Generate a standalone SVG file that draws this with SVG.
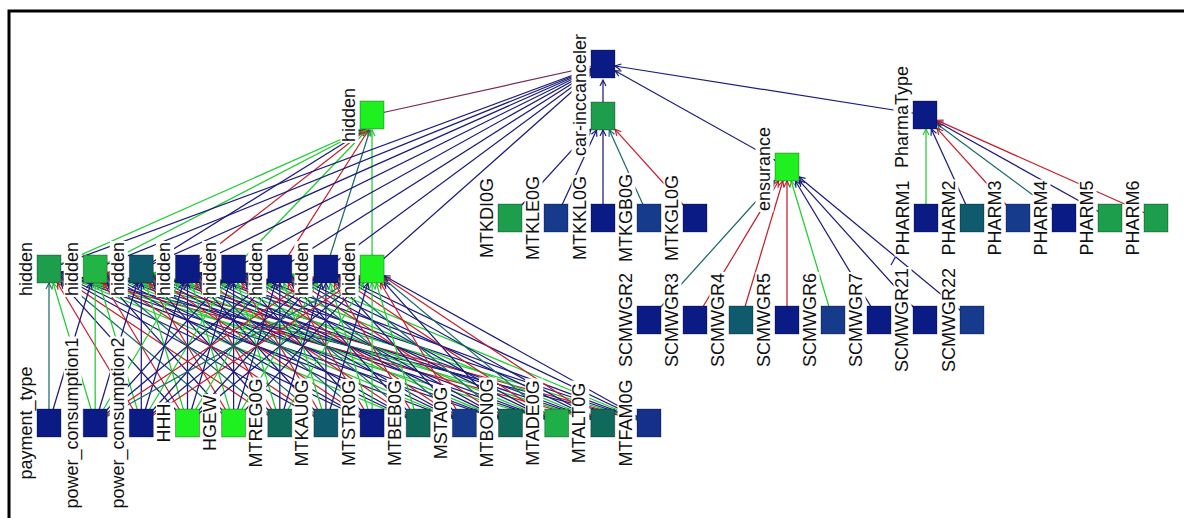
<svg xmlns="http://www.w3.org/2000/svg" width="1184" height="518" viewBox="0 0 1184 518">
<defs>
<style>
.e line{fill:none;stroke-width:1.25}
.n{stroke:#1c1c7c;marker-end:url(#an)}
.r{stroke:#c4202e;marker-end:url(#ar)}
.g{stroke:#22cc33;marker-end:url(#ag)}
.t{stroke:#1d6a6a;marker-end:url(#at)}
.nn{stroke:#1c1c7c}
.pp{stroke:#7a2850}
.bg{fill:#fff}
.l{font-family:"Liberation Sans",Arial,sans-serif;font-size:18px;fill:#111;text-anchor:middle}
.s{stroke:#000;stroke-opacity:.3;stroke-width:1}
</style>
<marker id="an" markerUnits="userSpaceOnUse" orient="auto" markerWidth="12" markerHeight="12" overflow="visible"><path d="M-6,-3L0,0L-6,3" fill="none" stroke="#1c1c7c" stroke-width="1.2"/></marker>
<marker id="ar" markerUnits="userSpaceOnUse" orient="auto" markerWidth="12" markerHeight="12" overflow="visible"><path d="M-6,-3L0,0L-6,3" fill="none" stroke="#c4202e" stroke-width="1.2"/></marker>
<marker id="ag" markerUnits="userSpaceOnUse" orient="auto" markerWidth="12" markerHeight="12" overflow="visible"><path d="M-6,-3L0,0L-6,3" fill="none" stroke="#22cc33" stroke-width="1.2"/></marker>
<marker id="at" markerUnits="userSpaceOnUse" orient="auto" markerWidth="12" markerHeight="12" overflow="visible"><path d="M-6,-3L0,0L-6,3" fill="none" stroke="#1d6a6a" stroke-width="1.2"/></marker>
</defs>
<rect width="1184" height="518" fill="#fff"/>
<path d="M9,518V11H1184" fill="none" stroke="#000" stroke-width="3"/>

<g id="connectors" class="e">
<!-- bottom row -> hidden row -->
<line class="t" x1="49" y1="423" x2="49" y2="283"/>
<line class="g" x1="95.2" y1="423" x2="53.2" y2="283"/>
<line class="r" x1="141.3" y1="423" x2="57.4" y2="283"/>
<line class="n" x1="187.5" y1="423" x2="61" y2="282.3"/>
<line class="t" x1="233.6" y1="423" x2="61" y2="279"/>
<line class="r" x1="279.8" y1="423" x2="61" y2="277"/>
<line class="n" x1="325.9" y1="423" x2="61" y2="275.7"/>
<line class="n" x1="372.1" y1="423" x2="61" y2="274.7"/>
<line class="g" x1="418.2" y1="423" x2="61" y2="274"/>
<line class="n" x1="464.4" y1="423" x2="61" y2="273.4"/>
<line class="n" x1="510.5" y1="423" x2="61" y2="273"/>
<line class="g" x1="556.7" y1="423" x2="61" y2="272.6"/>
<line class="r" x1="602.8" y1="423" x2="61" y2="272.3"/>
<line class="n" x1="649" y1="423" x2="61" y2="272.1"/>
<line class="n" x1="49" y1="423" x2="91" y2="283"/>
<line class="g" x1="95.2" y1="423" x2="95.2" y2="283"/>
<line class="g" x1="141.3" y1="423" x2="99.4" y2="283"/>
<line class="r" x1="187.5" y1="423" x2="103.6" y2="283"/>
<line class="n" x1="233.6" y1="423" x2="107.2" y2="282.3"/>
<line class="t" x1="279.8" y1="423" x2="107.2" y2="279"/>
<line class="r" x1="325.9" y1="423" x2="107.2" y2="277"/>
<line class="n" x1="372.1" y1="423" x2="107.2" y2="275.7"/>
<line class="n" x1="418.2" y1="423" x2="107.2" y2="274.7"/>
<line class="g" x1="464.4" y1="423" x2="107.2" y2="274"/>
<line class="n" x1="510.5" y1="423" x2="107.2" y2="273.4"/>
<line class="n" x1="556.7" y1="423" x2="107.2" y2="273"/>
<line class="g" x1="602.8" y1="423" x2="107.2" y2="272.6"/>
<line class="r" x1="649" y1="423" x2="107.2" y2="272.3"/>
<line class="n" x1="95.2" y1="423" x2="137.1" y2="283"/>
<line class="n" x1="141.3" y1="423" x2="141.3" y2="283"/>
<line class="g" x1="187.5" y1="423" x2="145.5" y2="283"/>
<line class="r" x1="233.6" y1="423" x2="149.7" y2="283"/>
<line class="n" x1="279.8" y1="423" x2="153.3" y2="282.3"/>
<line class="t" x1="325.9" y1="423" x2="153.3" y2="279"/>
<line class="r" x1="372.1" y1="423" x2="153.3" y2="277"/>
<line class="n" x1="418.2" y1="423" x2="153.3" y2="275.7"/>
<line class="n" x1="464.4" y1="423" x2="153.3" y2="274.7"/>
<line class="g" x1="510.5" y1="423" x2="153.3" y2="274"/>
<line class="n" x1="556.7" y1="423" x2="153.3" y2="273.4"/>
<line class="n" x1="602.8" y1="423" x2="153.3" y2="273"/>
<line class="g" x1="649" y1="423" x2="153.3" y2="272.6"/>
<line class="g" x1="95.2" y1="423" x2="179.1" y2="283"/>
<line class="n" x1="141.3" y1="423" x2="183.3" y2="283"/>
<line class="n" x1="187.5" y1="423" x2="187.5" y2="283"/>
<line class="g" x1="233.6" y1="423" x2="191.7" y2="283"/>
<line class="r" x1="279.8" y1="423" x2="195.9" y2="283"/>
<line class="n" x1="325.9" y1="423" x2="199.5" y2="282.3"/>
<line class="t" x1="372.1" y1="423" x2="199.5" y2="279"/>
<line class="r" x1="418.2" y1="423" x2="199.5" y2="277"/>
<line class="n" x1="464.4" y1="423" x2="199.5" y2="275.7"/>
<line class="n" x1="510.5" y1="423" x2="199.5" y2="274.7"/>
<line class="g" x1="556.7" y1="423" x2="199.5" y2="274"/>
<line class="n" x1="602.8" y1="423" x2="199.5" y2="273.4"/>
<line class="n" x1="649" y1="423" x2="199.5" y2="273"/>
<line class="n" x1="95.2" y1="423" x2="221.6" y2="282.3"/>
<line class="g" x1="141.3" y1="423" x2="225.2" y2="283"/>
<line class="n" x1="187.5" y1="423" x2="229.4" y2="283"/>
<line class="n" x1="233.6" y1="423" x2="233.6" y2="283"/>
<line class="g" x1="279.8" y1="423" x2="237.8" y2="283"/>
<line class="r" x1="325.9" y1="423" x2="242" y2="283"/>
<line class="n" x1="372.1" y1="423" x2="245.6" y2="282.3"/>
<line class="t" x1="418.2" y1="423" x2="245.6" y2="279"/>
<line class="r" x1="464.4" y1="423" x2="245.6" y2="277"/>
<line class="n" x1="510.5" y1="423" x2="245.6" y2="275.7"/>
<line class="n" x1="556.7" y1="423" x2="245.6" y2="274.7"/>
<line class="g" x1="602.8" y1="423" x2="245.6" y2="274"/>
<line class="n" x1="649" y1="423" x2="245.6" y2="273.4"/>
<line class="n" x1="95.2" y1="423" x2="267.8" y2="279"/>
<line class="n" x1="141.3" y1="423" x2="267.8" y2="282.3"/>
<line class="g" x1="187.5" y1="423" x2="271.4" y2="283"/>
<line class="n" x1="233.6" y1="423" x2="275.6" y2="283"/>
<line class="n" x1="279.8" y1="423" x2="279.8" y2="283"/>
<line class="g" x1="325.9" y1="423" x2="284" y2="283"/>
<line class="r" x1="372.1" y1="423" x2="288.2" y2="283"/>
<line class="n" x1="418.2" y1="423" x2="291.8" y2="282.3"/>
<line class="t" x1="464.4" y1="423" x2="291.8" y2="279"/>
<line class="r" x1="510.5" y1="423" x2="291.8" y2="277"/>
<line class="n" x1="556.7" y1="423" x2="291.8" y2="275.7"/>
<line class="n" x1="602.8" y1="423" x2="291.8" y2="274.7"/>
<line class="g" x1="649" y1="423" x2="291.8" y2="274"/>
<line class="r" x1="95.2" y1="423" x2="313.9" y2="277"/>
<line class="n" x1="141.3" y1="423" x2="313.9" y2="279"/>
<line class="n" x1="187.5" y1="423" x2="313.9" y2="282.3"/>
<line class="g" x1="233.6" y1="423" x2="317.5" y2="283"/>
<line class="n" x1="279.8" y1="423" x2="321.7" y2="283"/>
<line class="n" x1="325.9" y1="423" x2="325.9" y2="283"/>
<line class="g" x1="372.1" y1="423" x2="330.1" y2="283"/>
<line class="r" x1="418.2" y1="423" x2="334.3" y2="283"/>
<line class="n" x1="464.4" y1="423" x2="337.9" y2="282.3"/>
<line class="t" x1="510.5" y1="423" x2="337.9" y2="279"/>
<line class="r" x1="556.7" y1="423" x2="337.9" y2="277"/>
<line class="n" x1="602.8" y1="423" x2="337.9" y2="275.7"/>
<line class="n" x1="649" y1="423" x2="337.9" y2="274.7"/>
<line class="t" x1="95.2" y1="423" x2="360.1" y2="275.7"/>
<line class="r" x1="141.3" y1="423" x2="360.1" y2="277"/>
<line class="n" x1="187.5" y1="423" x2="360.1" y2="279"/>
<line class="n" x1="233.6" y1="423" x2="360.1" y2="282.3"/>
<line class="g" x1="279.8" y1="423" x2="363.7" y2="283"/>
<line class="n" x1="325.9" y1="423" x2="367.9" y2="283"/>
<line class="g" x1="372.1" y1="423" x2="372.1" y2="283"/>
<line class="g" x1="418.2" y1="423" x2="376.3" y2="283"/>
<line class="r" x1="464.4" y1="423" x2="380.5" y2="283"/>
<line class="n" x1="510.5" y1="423" x2="384.1" y2="282.3"/>
<line class="t" x1="556.7" y1="423" x2="384.1" y2="279"/>
<line class="r" x1="602.8" y1="423" x2="384.1" y2="277"/>
<line class="n" x1="649" y1="423" x2="384.1" y2="275.7"/>
<!-- hidden row -> top hidden -->
<line class="g" x1="49" y1="269" x2="362" y2="130"/>
<line class="g" x1="95.2" y1="269" x2="363.5" y2="130"/>
<line class="n" x1="141.3" y1="269" x2="365" y2="130"/>
<line class="r" x1="187.5" y1="269" x2="366" y2="130"/>
<line class="g" x1="233.6" y1="269" x2="367" y2="130"/>
<line class="r" x1="279.8" y1="269" x2="368.5" y2="130"/>
<line class="t" x1="325.9" y1="269" x2="370" y2="130"/>
<line class="g" x1="372.1" y1="269" x2="372" y2="130"/>
<!-- hidden row -> car-inccanceler -->
<line class="nn" x1="49" y1="269" x2="603" y2="64"/>
<line class="nn" x1="95.2" y1="269" x2="603" y2="64"/>
<line class="nn" x1="141.3" y1="269" x2="603" y2="64"/>
<line class="nn" x1="187.5" y1="269" x2="603" y2="64"/>
<line class="nn" x1="233.6" y1="269" x2="603" y2="64"/>
<line class="nn" x1="279.8" y1="269" x2="603" y2="64"/>
<line class="nn" x1="325.9" y1="269" x2="603" y2="64"/>
<line class="nn" x1="372.1" y1="269" x2="603" y2="64"/>
<line class="pp" x1="372" y1="115" x2="603" y2="64"/>
<!-- into car-inccanceler -->
<line class="n" x1="603" y1="102" x2="603" y2="80"/>
<line class="n" x1="787" y1="167" x2="615" y2="70.7"/>
<line class="n" x1="925" y1="115" x2="615" y2="66"/>
<!-- MTK row -> green -->
<line class="n" x1="510" y1="218" x2="591" y2="129.2"/>
<line class="n" x1="556" y1="218" x2="596.6" y2="130"/>
<line class="n" x1="603" y1="218" x2="603" y2="130"/>
<line class="t" x1="649" y1="218" x2="609.3" y2="130"/>
<line class="r" x1="695" y1="218" x2="615" y2="129.3"/>
<!-- SCMWGR row -> ensurance -->
<line class="t" x1="649" y1="320" x2="775" y2="180.3"/>
<line class="r" x1="695" y1="320" x2="778.6" y2="181"/>
<line class="r" x1="741" y1="320" x2="782.8" y2="181"/>
<line class="r" x1="787" y1="320" x2="787" y2="181"/>
<line class="g" x1="833" y1="320" x2="791.2" y2="181"/>
<line class="n" x1="879" y1="320" x2="795.4" y2="181"/>
<line class="n" x1="925" y1="320" x2="799" y2="180.3"/>
<line class="n" x1="972" y1="320" x2="799" y2="176.9"/>
<!-- PHARM row -> PharmaType -->
<line class="g" x1="926" y1="218" x2="926" y2="129"/>
<line class="n" x1="972" y1="218" x2="931.3" y2="129"/>
<line class="r" x1="1018" y1="218" x2="937" y2="128.3"/>
<line class="t" x1="1064" y1="218" x2="937" y2="123.9"/>
<line class="n" x1="1110" y1="218" x2="937" y2="121.7"/>
<line class="r" x1="1156" y1="218" x2="937" y2="120.4"/>
<line class="nn" x1="891" y1="265" x2="896" y2="256"/>
</g>

<!-- top nodes -->
<g id="n-car-inccanceler"><rect class="bg" x="571.5" y="33" width="18" height="124"/><text class="l" transform="translate(585.5,95) rotate(-90)">car-inccanceler</text><rect class="s" x="591" y="50" width="24" height="28" fill="#0b1b86"/></g>
<g id="n-car-green"><rect class="s" x="591" y="102" width="24" height="28" fill="#1d9e4c"/></g>
<g id="n-hidden-top"><rect class="bg" x="340.5" y="87" width="18" height="56"/><text class="l" transform="translate(354.5,115) rotate(-90)">hidden</text><rect class="s" x="360" y="101" width="24" height="28" fill="#1ff01f"/></g>
<g id="n-ensurance"><rect class="bg" x="755.5" y="126" width="18" height="86"/><text class="l" transform="translate(769.5,169) rotate(-90)">ensurance</text><rect class="s" x="775" y="153" width="24" height="28" fill="#1ff01f"/></g>
<g id="n-pharmatype"><rect class="bg" x="893.5" y="64.5" width="18" height="105"/><text class="l" transform="translate(907.5,117) rotate(-90)">PharmaType</text><rect class="s" x="913" y="101" width="24" height="28" fill="#0b1b86"/></g>

<!-- hidden row -->
<g id="n-h0"><rect class="bg" x="17.5" y="241" width="18" height="56"/><text class="l" transform="translate(31.5,269) rotate(-90)">hidden</text><rect class="s" x="37" y="255" width="24" height="28" fill="#1d9e4c"/></g>
<g id="n-h1"><rect class="bg" x="63.7" y="241" width="18" height="56"/><text class="l" transform="translate(77.7,269) rotate(-90)">hidden</text><rect class="s" x="83.2" y="255" width="24" height="28" fill="#22b444"/></g>
<g id="n-h2"><rect class="bg" x="109.8" y="241" width="18" height="56"/><text class="l" transform="translate(123.8,269) rotate(-90)">hidden</text><rect class="s" x="129.3" y="255" width="24" height="28" fill="#0f5a6c"/></g>
<g id="n-h3"><rect class="bg" x="156" y="241" width="18" height="56"/><text class="l" transform="translate(170,269) rotate(-90)">hidden</text><rect class="s" x="175.5" y="255" width="24" height="28" fill="#0b1b86"/></g>
<g id="n-h4"><rect class="bg" x="202.1" y="241" width="18" height="56"/><text class="l" transform="translate(216.1,269) rotate(-90)">hidden</text><rect class="s" x="221.6" y="255" width="24" height="28" fill="#0b1b86"/></g>
<g id="n-h5"><rect class="bg" x="248.3" y="241" width="18" height="56"/><text class="l" transform="translate(262.3,269) rotate(-90)">hidden</text><rect class="s" x="267.8" y="255" width="24" height="28" fill="#0b1b86"/></g>
<g id="n-h6"><rect class="bg" x="294.4" y="241" width="18" height="56"/><text class="l" transform="translate(308.4,269) rotate(-90)">hidden</text><rect class="s" x="313.9" y="255" width="24" height="28" fill="#0b1b86"/></g>
<g id="n-h7"><rect class="bg" x="340.6" y="241" width="18" height="56"/><text class="l" transform="translate(354.6,269) rotate(-90)">hidden</text><rect class="s" x="360.1" y="255" width="24" height="28" fill="#1ff01f"/></g>

<!-- bottom row -->
<g id="n-payment_type"><rect class="bg" x="17.5" y="365.5" width="18" height="115"/><text class="l" transform="translate(31.5,423) rotate(-90)">payment_type</text><rect class="s" x="37" y="409" width="24" height="28" fill="#0b1b86"/></g>
<g id="n-power_consumption1"><rect class="bg" x="63.7" y="336.5" width="18" height="173"/><text class="l" transform="translate(77.7,423) rotate(-90)">power_consumption1</text><rect class="s" x="83.2" y="409" width="24" height="28" fill="#0b1b86"/></g>
<g id="n-power_consumption2"><rect class="bg" x="109.8" y="336.5" width="18" height="173"/><text class="l" transform="translate(123.8,423) rotate(-90)">power_consumption2</text><rect class="s" x="129.3" y="409" width="24" height="28" fill="#0b1b86"/></g>
<g id="n-HHH"><rect class="bg" x="156" y="402.5" width="18" height="41"/><text class="l" transform="translate(170,423) rotate(-90)">HHH</text><rect class="s" x="175.5" y="409" width="24" height="28" fill="#1ff01f"/></g>
<g id="n-HGEW"><rect class="bg" x="202.1" y="394" width="18" height="58"/><text class="l" transform="translate(216.1,423) rotate(-90)">HGEW</text><rect class="s" x="221.6" y="409" width="24" height="28" fill="#1ff01f"/></g>
<g id="n-MTREG0G"><rect class="bg" x="248.3" y="377.5" width="18" height="91"/><text class="l" transform="translate(262.3,423) rotate(-90)">MTREG0G</text><rect class="s" x="267.8" y="409" width="24" height="28" fill="#0f6a5c"/></g>
<g id="n-MTKAU0G"><rect class="bg" x="294.4" y="378.5" width="18" height="89"/><text class="l" transform="translate(308.4,423) rotate(-90)">MTKAU0G</text><rect class="s" x="313.9" y="409" width="24" height="28" fill="#0f5a6c"/></g>
<g id="n-MTSTR0G"><rect class="bg" x="340.6" y="379" width="18" height="88"/><text class="l" transform="translate(354.6,423) rotate(-90)">MTSTR0G</text><rect class="s" x="360.1" y="409" width="24" height="28" fill="#0b1b86"/></g>
<g id="n-MTBEB0G"><rect class="bg" x="386.7" y="379" width="18" height="88"/><text class="l" transform="translate(400.7,423) rotate(-90)">MTBEB0G</text><rect class="s" x="406.2" y="409" width="24" height="28" fill="#0f6a5c"/></g>
<g id="n-MSTA0G"><rect class="bg" x="432.9" y="385" width="18" height="76"/><text class="l" transform="translate(446.9,423) rotate(-90)">MSTA0G</text><rect class="s" x="452.4" y="409" width="24" height="28" fill="#163a8c"/></g>
<g id="n-MTBON0G"><rect class="bg" x="479" y="377.5" width="18" height="91"/><text class="l" transform="translate(493,423) rotate(-90)">MTBON0G</text><rect class="s" x="498.5" y="409" width="24" height="28" fill="#0f6a5c"/></g>
<g id="n-MTADE0G"><rect class="bg" x="525.2" y="378.5" width="18" height="89"/><text class="l" transform="translate(539.2,423) rotate(-90)">MTADE0G</text><rect class="s" x="544.7" y="409" width="24" height="28" fill="#1fae48"/></g>
<g id="n-MTALT0G"><rect class="bg" x="571.3" y="380.5" width="18" height="85"/><text class="l" transform="translate(585.3,423) rotate(-90)">MTALT0G</text><rect class="s" x="590.8" y="409" width="24" height="28" fill="#0f6a5c"/></g>
<g id="n-MTFAM0G"><rect class="bg" x="617.5" y="378" width="18" height="90"/><text class="l" transform="translate(631.5,423) rotate(-90)">MTFAM0G</text><rect class="s" x="637" y="409" width="24" height="28" fill="#15308a"/></g>

<!-- MTK row -->
<g id="n-MTKDI0G"><rect class="bg" x="478.5" y="177" width="18" height="82"/><text class="l" transform="translate(492.5,218) rotate(-90)">MTKDI0G</text><rect class="s" x="498" y="204" width="24" height="28" fill="#1d9e4c"/></g>
<g id="n-MTKLE0G"><rect class="bg" x="524.5" y="175" width="18" height="86"/><text class="l" transform="translate(538.5,218) rotate(-90)">MTKLE0G</text><rect class="s" x="544" y="204" width="24" height="28" fill="#163a8c"/></g>
<g id="n-MTKKL0G"><rect class="bg" x="571.5" y="175" width="18" height="86"/><text class="l" transform="translate(585.5,218) rotate(-90)">MTKKL0G</text><rect class="s" x="591" y="204" width="24" height="28" fill="#0b1b86"/></g>
<g id="n-MTKGB0G"><rect class="bg" x="617.5" y="173" width="18" height="90"/><text class="l" transform="translate(631.5,218) rotate(-90)">MTKGB0G</text><rect class="s" x="637" y="204" width="24" height="28" fill="#163a8c"/></g>
<g id="n-MTKGL0G"><rect class="bg" x="663.5" y="174" width="18" height="88"/><text class="l" transform="translate(677.5,218) rotate(-90)">MTKGL0G</text><rect class="s" x="683" y="204" width="24" height="28" fill="#0b1b86"/></g>

<!-- SCMWGR row -->
<g id="n-SCMWGR2"><rect class="bg" x="617.5" y="272" width="18" height="96"/><text class="l" transform="translate(631.5,320) rotate(-90)">SCMWGR2</text><rect class="s" x="637" y="306" width="24" height="28" fill="#0b1b86"/></g>
<g id="n-SCMWGR3"><rect class="bg" x="663.5" y="272" width="18" height="96"/><text class="l" transform="translate(677.5,320) rotate(-90)">SCMWGR3</text><rect class="s" x="683" y="306" width="24" height="28" fill="#0b1b86"/></g>
<g id="n-SCMWGR4"><rect class="bg" x="709.5" y="272" width="18" height="96"/><text class="l" transform="translate(723.5,320) rotate(-90)">SCMWGR4</text><rect class="s" x="729" y="306" width="24" height="28" fill="#0f5a6c"/></g>
<g id="n-SCMWGR5"><rect class="bg" x="755.5" y="272" width="18" height="96"/><text class="l" transform="translate(769.5,320) rotate(-90)">SCMWGR5</text><rect class="s" x="775" y="306" width="24" height="28" fill="#0b1b86"/></g>
<g id="n-SCMWGR6"><rect class="bg" x="801.5" y="272" width="18" height="96"/><text class="l" transform="translate(815.5,320) rotate(-90)">SCMWGR6</text><rect class="s" x="821" y="306" width="24" height="28" fill="#163a8c"/></g>
<g id="n-SCMWGR7"><rect class="bg" x="847.5" y="272" width="18" height="96"/><text class="l" transform="translate(861.5,320) rotate(-90)">SCMWGR7</text><rect class="s" x="867" y="306" width="24" height="28" fill="#0b1b86"/></g>
<g id="n-SCMWGR21"><rect class="bg" x="893.5" y="267" width="18" height="106"/><text class="l" transform="translate(907.5,320) rotate(-90)">SCMWGR21</text><rect class="s" x="913" y="306" width="24" height="28" fill="#0b1b86"/></g>
<g id="n-SCMWGR22"><rect class="bg" x="940.5" y="267" width="18" height="106"/><text class="l" transform="translate(954.5,320) rotate(-90)">SCMWGR22</text><rect class="s" x="960" y="306" width="24" height="28" fill="#163a8c"/></g>

<!-- PHARM row -->
<g id="n-PHARM1"><rect class="bg" x="894.5" y="179.5" width="18" height="77"/><text class="l" transform="translate(908.5,218) rotate(-90)">PHARM1</text><rect class="s" x="914" y="204" width="24" height="28" fill="#0b1b86"/></g>
<g id="n-PHARM2"><rect class="bg" x="940.5" y="179.5" width="18" height="77"/><text class="l" transform="translate(954.5,218) rotate(-90)">PHARM2</text><rect class="s" x="960" y="204" width="24" height="28" fill="#0f5a6c"/></g>
<g id="n-PHARM3"><rect class="bg" x="986.5" y="179.5" width="18" height="77"/><text class="l" transform="translate(1000.5,218) rotate(-90)">PHARM3</text><rect class="s" x="1006" y="204" width="24" height="28" fill="#163a8c"/></g>
<g id="n-PHARM4"><rect class="bg" x="1032.5" y="179.5" width="18" height="77"/><text class="l" transform="translate(1046.5,218) rotate(-90)">PHARM4</text><rect class="s" x="1052" y="204" width="24" height="28" fill="#0b1b86"/></g>
<g id="n-PHARM5"><rect class="bg" x="1078.5" y="179.5" width="18" height="77"/><text class="l" transform="translate(1092.5,218) rotate(-90)">PHARM5</text><rect class="s" x="1098" y="204" width="24" height="28" fill="#1d9e4c"/></g>
<g id="n-PHARM6"><rect class="bg" x="1124.5" y="179.5" width="18" height="77"/><text class="l" transform="translate(1138.5,218) rotate(-90)">PHARM6</text><rect class="s" x="1144" y="204" width="24" height="28" fill="#1d9e4c"/></g>
</svg>
